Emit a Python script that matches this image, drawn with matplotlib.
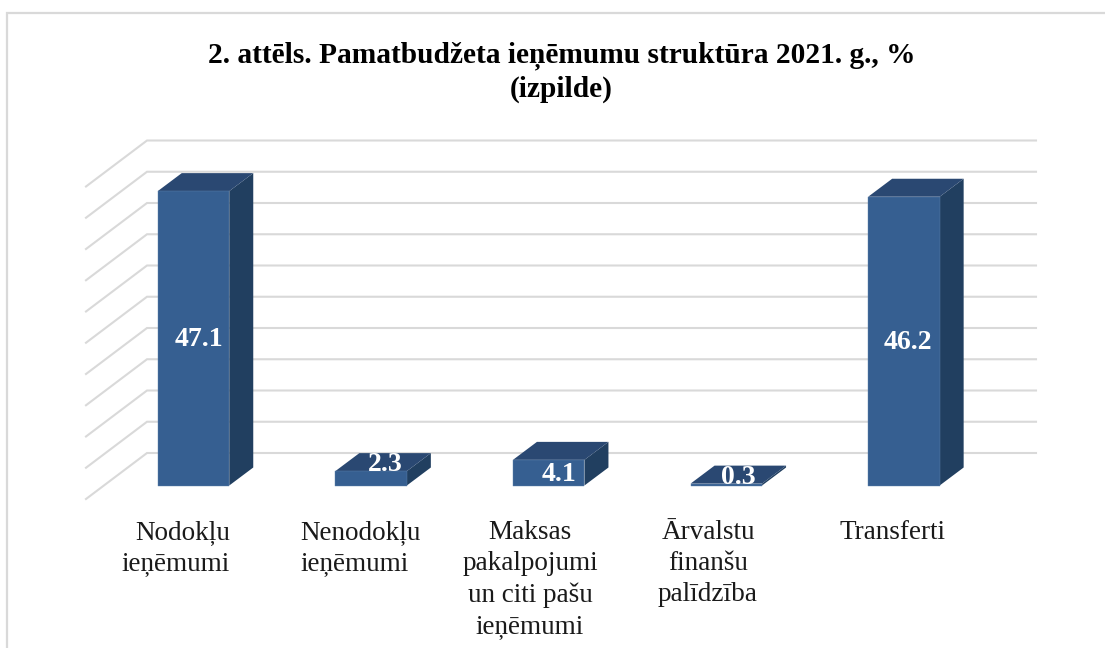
import matplotlib
matplotlib.use("Agg")
import matplotlib.pyplot as plt

plt.rcParams['font.family'] = ['Liberation Serif', 'DejaVu Serif']

title = "2. attēls. Pamatbudžeta ieņēmumu struktūra 2021. g., %\n(izpilde)"
categories = ["Nodokļu\nieņēmumi", "Nenodokļu\nieņēmumi", "Maksas\npakalpojumi\nun citi pašu\nieņēmumi",
              "Ārvalstu\nfinanšu\npalīdzība", "Transferti"]
values = [47.1, 2.3, 4.1, 0.3, 46.2]
value_labels = ["47.1", "2.3", "4.1", "0.3", "46.2"]
grid_values = [0, 5, 10, 15, 20, 25, 30, 35, 40, 45, 50]

# layout, all in pixels of the 1105x648 picture
W, H = 1105, 648
centers_px = 193.5, 177.6   # first bar centre, bar pitch
base_y = 485.5
unit = 6.25                 # pixels per percent
bar_w = 71.5 / 177.6
depth_x = 24 / 177.6
depth_y = 18 / unit
wall_x = 61 / 177.6
wall_y = 46 / unit

front_c = "#365f91"
top_c = "#2a4872"
side_c = "#213f60"
grid_c = "#d9d9d9"

fig = plt.figure(figsize=(W / 100, H / 100), dpi=100)
left, right, top, bottom = 86, 1036, 141, 499
ax = fig.add_axes([left / W, 1 - bottom / H, (right - left) / W, (bottom - top) / H])
ax.set_xlim((left - centers_px[0]) / centers_px[1], (right - centers_px[0]) / centers_px[1])
ax.set_ylim((base_y - bottom) / unit, (base_y - top) / unit)
ax.axis("off")

# grid: back wall plus the slanted side wall
x0 = ax.get_xlim()[0]
x1 = ax.get_xlim()[1]
y0 = ax.get_ylim()[0]
for v in grid_values:
    ax.plot([x0, x0 + wall_x, x1], [y0 + v, y0 + v + wall_y, y0 + v + wall_y],
            color=grid_c, lw=1.5, clip_on=False, zorder=1, solid_joinstyle="miter")

# bars drawn as three faces
for i, v in enumerate(values):
    l = i - bar_w / 2
    r = i + bar_w / 2
    ax.fill([r, r + depth_x, r + depth_x, r], [0, depth_y, v + depth_y, v], color=side_c, lw=0, zorder=3)
    ax.fill([l, l + depth_x, r + depth_x, r], [v, v + depth_y, v + depth_y, v], color=top_c, lw=0, zorder=3)
    ax.fill([l, r, r, l], [0, 0, v, v], facecolor=front_c, edgecolor="#5f82ad", lw=0.3, zorder=4)

# data labels sit where the original put them, not always on the bar centre
label_dx = [0.03, 0.08, 0.06, 0.07, 0.02]
label_y = [23.3, 3.4, 1.8, 1.3, 22.9]
for i, lab in enumerate(value_labels):
    ax.text(i + label_dx[i], label_y[i], lab, color="white", fontsize=20, fontweight="bold",
            ha="center", va="center", zorder=5)

# category labels, with the mixed alignment of the original
cat_x = [230, 300, 530, 708, 839]
cat_ha = ["right", "left", "center", "center", "left"]
for i, c in enumerate(categories):
    ax.text((cat_x[i] - centers_px[0]) / centers_px[1], (base_y - 520) / unit, c, fontsize=19.5,
            color="#1a1a1a", ha=cat_ha[i], va="top", linespacing=1.32,
            multialignment=cat_ha[i], clip_on=False)

fig.text(561.5 / W, 1 - 41 / H, title, fontsize=21.2, fontweight="bold", color="black",
         ha="center", va="top", linespacing=1.28)

# chart frame, runs off the right and bottom of the crop
fig.add_artist(plt.Line2D([7 / W, 7 / W, 1], [0, 1 - 13 / H, 1 - 13 / H], color=grid_c, lw=1.6,
                          transform=fig.transFigure, solid_joinstyle="miter"))

fig.savefig("out.png", dpi=100)
